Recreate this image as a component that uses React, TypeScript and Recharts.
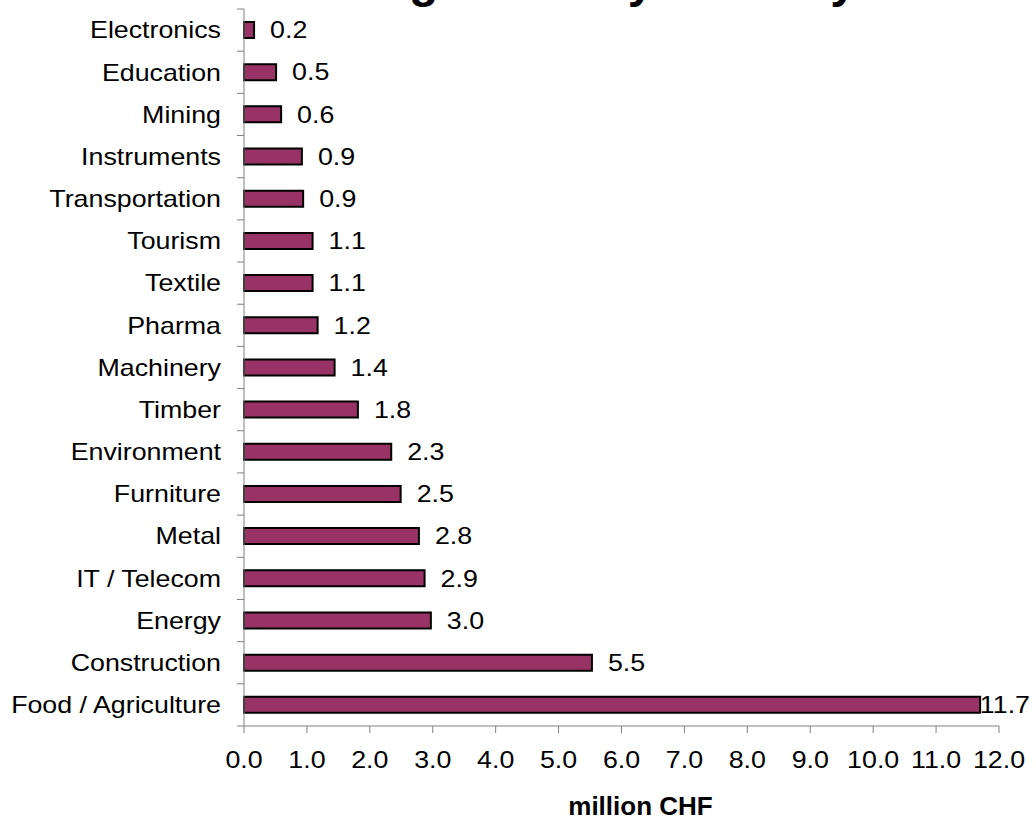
import { Bar, BarChart, LabelList, XAxis, YAxis } from "recharts";

const industries = [
  "Electronics",
  "Education",
  "Mining",
  "Instruments",
  "Transportation",
  "Tourism",
  "Textile",
  "Pharma",
  "Machinery",
  "Timber",
  "Environment",
  "Furniture",
  "Metal",
  "IT / Telecom",
  "Energy",
  "Construction",
  "Food / Agriculture",
];

// million CHF
const funding = [0.16, 0.51, 0.59, 0.92, 0.94, 1.09, 1.09, 1.17, 1.44, 1.81, 2.34, 2.49, 2.78, 2.87, 2.97, 5.53, 11.7];

const xTicks = [0, 1, 2, 3, 4, 5, 6, 7, 8, 9, 10, 11, 12];

const CHART_W = 1036;
const CHART_H = 819;
const MARGIN = { top: 9, right: 37, left: 0, bottom: 0 };
const X_AXIS_H = 93;
const Y_AXIS_W = 244;
const FONT = "'Liberation Sans', Arial, sans-serif";
const FS = 23;
// the source picture is stretched sideways a little, so the glyphs are wider than tall
const STRETCH = 1.165;
const BAR_FILL = "#993366";
const AXIS_GREY = "#808080";

const data = industries.map((name, i) => ({ name, value: funding[i] }));

const BAND = (CHART_H - MARGIN.top - MARGIN.bottom - X_AXIS_H) / industries.length;

function WideText({ x, y, anchor, children, dy }: { x: number; y: number; anchor: "start" | "middle" | "end"; children: string; dy?: string }) {
  return (
    <text
      transform={`translate(${x},${y}) scale(${STRETCH},1)`}
      textAnchor={anchor}
      dominantBaseline={dy ? undefined : "central"}
      dy={dy}
      fontSize={FS}
      fontFamily={FONT}
      fill="#000"
    >
      {children}
    </text>
  );
}

/** Excel style category axis: tick marks sit on the band boundaries, not on the centres */
function CategoryTick(props: any) {
  const { x, y, payload, index } = props;
  const top = y - BAND / 2;
  const bottom = y + BAND / 2;
  return (
    <g>
      <line x1={x - 7} x2={x} y1={top} y2={top} stroke={AXIS_GREY} strokeWidth={1} />
      {index === industries.length - 1 && (
        <line x1={x - 7} x2={x} y1={bottom} y2={bottom} stroke={AXIS_GREY} strokeWidth={1} />
      )}
      <WideText x={x - 23} y={y} anchor="end">
        {payload.value}
      </WideText>
    </g>
  );
}

function ValueTick(props: any) {
  const { x, y, payload } = props;
  return (
    <WideText x={x} y={y} anchor="middle" dy="0.71em">
      {Number(payload.value).toFixed(1)}
    </WideText>
  );
}

function ValueLabel(props: any) {
  const { x, y, width, height, value } = props;
  const text = Number(value).toFixed(1);
  const approxW = (text.replace(".", "").length * 0.556 + 0.278) * FS * STRETCH;
  const lx = Math.min(x + width + 16, CHART_W - 4 - approxW);
  return (
    <WideText x={lx} y={y + height / 2} anchor="start">
      {text}
    </WideText>
  );
}

function AxisTitle(props: any) {
  const vb = props.viewBox || {};
  return (
    <text
      x={vb.x + vb.width / 2 + 19}
      y={vb.y + 80}
      textAnchor="middle"
      dominantBaseline="central"
      fontSize={26}
      fontWeight="bold"
      fontFamily={FONT}
      fill="#000"
    >
      million CHF
    </text>
  );
}

export default function App() {
  return (
    <div style={{ position: "absolute", left: 0, top: 0, width: CHART_W, height: CHART_H, background: "#fff" }}>
      {/* title sits mostly above the visible area, only the descenders show */}
      <svg width={CHART_W} height={20} style={{ position: "absolute", left: 0, top: 0 }}>
        <text x={249} y={-3} fontSize={48} fontWeight="bold" fontFamily={FONT} fill="#000">
          Funding Share by Industry
        </text>
      </svg>
      <BarChart width={CHART_W} height={CHART_H} data={data} layout="vertical" margin={MARGIN}>
        <XAxis
          type="number"
          domain={[0, 12]}
          ticks={xTicks}
          interval={0}
          height={X_AXIS_H}
          tickSize={7}
          tickMargin={19}
          axisLine={{ stroke: AXIS_GREY }}
          tickLine={{ stroke: AXIS_GREY }}
          tick={<ValueTick />}
          label={<AxisTitle />}
        />
        <YAxis
          type="category"
          dataKey="name"
          width={Y_AXIS_W}
          interval={0}
          tickSize={0}
          tickMargin={0}
          axisLine={{ stroke: AXIS_GREY }}
          tickLine={false}
          tick={<CategoryTick />}
        />
        <Bar dataKey="value" fill={BAR_FILL} stroke="#000" strokeWidth={2} barSize={16} isAnimationActive={false}>
          <LabelList dataKey="value" content={<ValueLabel />} />
        </Bar>
      </BarChart>
    </div>
  );
}
